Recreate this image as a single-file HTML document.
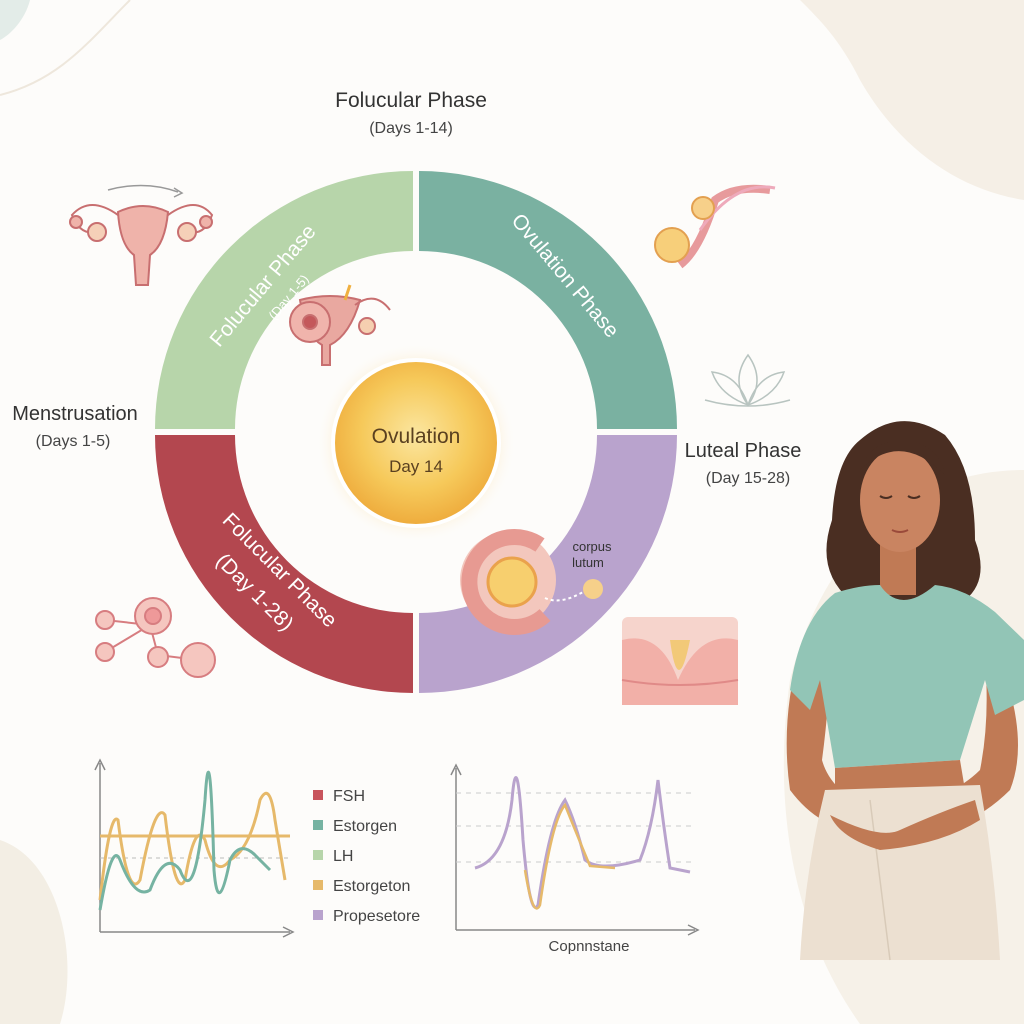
<!DOCTYPE html>
<html><head><meta charset="utf-8"><style>
html,body{margin:0;padding:0;background:#fdfcfa;}
svg{display:block;font-family:"Liberation Sans",sans-serif;}
</style></head><body>
<svg width="1024" height="1024" viewBox="0 0 1024 1024" xmlns="http://www.w3.org/2000/svg">
<defs>
<radialGradient id="sun" cx="50%" cy="45%" r="55%">
<stop offset="0" stop-color="#fbe6a0"/><stop offset="0.6" stop-color="#f6c95a"/><stop offset="1" stop-color="#eeab3c"/>
</radialGradient>
<radialGradient id="glow" cx="50%" cy="50%" r="50%">
<stop offset="0.7" stop-color="#fbe3b0" stop-opacity="0.8"/><stop offset="1" stop-color="#fdfcfa" stop-opacity="0"/>
</radialGradient>
</defs>
<rect width="1024" height="1024" fill="#fdfcfa"/>
<!-- background blobs -->
<path d="M800,0 L1024,0 L1024,200 C960,190 900,150 860,80 C840,40 820,20 800,0Z" fill="#f5efe6"/>
<path d="M1024,470 C900,470 820,560 790,680 C770,820 800,940 860,1024 L1024,1024Z" fill="#f6f1e8"/>
<path d="M0,840 C60,860 80,960 60,1024 L0,1024Z" fill="#f3eee4"/>
<path d="M0,0 L30,0 C25,20 10,35 0,40Z" fill="#e3ece8"/>
<path d="M0,95 C60,80 90,40 130,0" fill="none" stroke="#eee7dc" stroke-width="2"/>
<!-- headings -->
<text x="411" y="107" font-size="21" fill="#333" text-anchor="middle">Folucular Phase</text>
<text x="411" y="133" font-size="16" fill="#444" text-anchor="middle">(Days 1-14)</text>
<text x="75" y="420" font-size="20" fill="#333" text-anchor="middle">Menstrusation</text>
<text x="73" y="446" font-size="16" fill="#444" text-anchor="middle">(Days 1-5)</text>
<text x="743" y="457" font-size="20" fill="#333" text-anchor="middle">Luteal Phase</text>
<text x="748" y="483" font-size="16" fill="#444" text-anchor="middle">(Day 15-28)</text>
<!-- ring -->
<path transform="translate(-3,-3)" d="M158,432 A258,258 0 0 1 416,174 L416,254 A178,178 0 0 0 238,432Z" fill="#b7d5aa"/>
<path transform="translate(3,-3)" d="M416,174 A258,258 0 0 1 674,432 L594,432 A178,178 0 0 0 416,254Z" fill="#7ab1a1"/>
<path transform="translate(3,3)" d="M674,432 A258,258 0 0 1 416,690 L416,610 A178,178 0 0 0 594,432Z" fill="#b9a3cd"/>
<path transform="translate(-3,3)" d="M416,690 A258,258 0 0 1 158,432 L238,432 A178,178 0 0 0 416,610Z" fill="#b3474f"/>
<text transform="translate(268,290) rotate(-50)" font-size="21" fill="#fff" text-anchor="middle">Folucular Phase</text>
<text transform="translate(292,300) rotate(-50)" font-size="13" fill="#fff" text-anchor="middle">(Day 1-5)</text>
<text transform="translate(560,280) rotate(50)" font-size="21" fill="#fff" text-anchor="middle">Ovulation Phase</text>
<text transform="translate(275,575) rotate(45)" font-size="21" fill="#fff" text-anchor="middle">Folucular Phase</text>
<text transform="translate(250,597) rotate(45)" font-size="21" fill="#fff" text-anchor="middle">(Day 1-28)</text>
<!-- center sun -->
<circle cx="416" cy="443" r="100" fill="url(#glow)"/>
<circle cx="416" cy="443" r="83" fill="url(#sun)" stroke="#fff" stroke-width="4"/>
<text x="416" y="443" font-size="21" fill="#5a4020" text-anchor="middle">Ovulation</text>
<text x="416" y="472" font-size="17" fill="#5a4020" text-anchor="middle">Day 14</text>
<!-- uterus in ring -->
<g fill="#e9a8a0" stroke="#c86f70" stroke-width="2">
<path d="M300,300 Q330,292 360,300 Q350,335 330,345 L330,365 L322,365 L322,345 Q305,335 300,300Z"/>
<circle cx="310" cy="322" r="20" fill="#f0b4ac"/><circle cx="310" cy="322" r="7" fill="#c4585b"/>
<path d="M355,305 Q375,290 390,310" fill="none"/><circle cx="367" cy="326" r="8" fill="#f5cfb0"/>
</g>
<path d="M345,300 L350,285" stroke="#f0b040" stroke-width="3"/>
<!-- corpus luteum -->
<circle cx="508" cy="580" r="48" fill="#f3c7bd"/>
<path d="M540,545 A45,45 0 1 0 545,615" fill="none" stroke="#e79a92" stroke-width="16"/>
<circle cx="512" cy="582" r="24" fill="#f7cf6e" stroke="#eaa24c" stroke-width="3"/>
<circle cx="593" cy="589" r="10" fill="#f6d08a"/>
<path d="M545,598 Q560,605 583,592" fill="none" stroke="#fff" stroke-dasharray="3,3" stroke-width="2"/>
<text x="592" y="551" font-size="13" fill="#333" text-anchor="middle">corpus</text>
<text x="588" y="567" font-size="13" fill="#333" text-anchor="middle">lutum</text>
<!-- top-left uterus -->
<path d="M108,190 Q145,180 178,192" fill="none" stroke="#999" stroke-width="1.5"/>
<path d="M174,188 L182,193 L174,197" fill="none" stroke="#999" stroke-width="1.5"/>
<g fill="#efb3aa" stroke="#c86f70" stroke-width="2">
<path d="M118,212 Q143,200 168,212 Q165,245 150,255 L148,285 L136,285 L134,255 Q120,245 118,212Z"/>
<path d="M118,215 Q90,195 72,215 Q80,235 95,232" fill="none"/>
<path d="M168,215 Q196,195 212,215 Q205,235 190,232" fill="none"/>
<circle cx="97" cy="232" r="9" fill="#f5d0b8"/><circle cx="187" cy="232" r="9" fill="#f5d0b8"/>
<circle cx="76" cy="222" r="6"/><circle cx="206" cy="222" r="6"/>
</g>
<!-- top-right tube -->
<path d="M680,265 Q700,250 715,200 Q735,185 770,190" fill="none" stroke="#e79a9c" stroke-width="8"/>
<path d="M700,230 Q735,180 775,188" fill="none" stroke="#eab" stroke-width="3"/>
<circle cx="703" cy="208" r="11" fill="#f7d08a" stroke="#e3a050" stroke-width="2"/>
<circle cx="672" cy="245" r="17" fill="#f7cf7a" stroke="#e3a050" stroke-width="2"/>
<!-- lotus -->
<g fill="none" stroke="#b8c4c0" stroke-width="1.5">
<path d="M748,405 Q730,380 748,355 Q766,380 748,405Z"/>
<path d="M748,405 Q720,395 712,372 Q738,375 748,405Z"/>
<path d="M748,405 Q776,395 784,372 Q758,375 748,405Z"/>
<path d="M705,400 Q748,412 790,400"/>
</g>
<!-- follicles bottom-left -->
<g stroke="#d77d80" stroke-width="2" fill="#f5c6bf">
<path d="M105,620 L150,625 L158,655 L198,660 M105,652 L150,625" fill="none"/>
<circle cx="153" cy="616" r="18"/><circle cx="153" cy="616" r="8" fill="#e99"/>
<circle cx="105" cy="620" r="9"/><circle cx="105" cy="652" r="9"/>
<circle cx="158" cy="657" r="10"/><circle cx="198" cy="660" r="17"/>
</g>
<!-- endometrium -->
<rect x="622" y="617" width="116" height="88" rx="6" fill="#f6d4cc"/>
<path d="M622,640 Q660,630 678,680 Q700,630 738,640 L738,705 L622,705Z" fill="#f2b0a8"/>
<path d="M670,640 Q678,700 690,640Z" fill="#f2c978"/>
<path d="M622,680 Q680,690 738,680" stroke="#e08a88" stroke-width="2" fill="none"/>
<!-- left chart -->
<g stroke="#888" stroke-width="1.5" fill="none">
<path d="M100,932 L100,763 M95,770 L100,760 L105,770"/>
<path d="M100,932 L290,932 M283,927 L293,932 L283,937"/>
</g>
<line x1="100" y1="858" x2="290" y2="858" stroke="#bbb" stroke-dasharray="4,4"/>
<line x1="100" y1="836" x2="290" y2="836" stroke="#e6b96a" stroke-width="3"/>
<path d="M100,900 Q110,810 118,820 Q128,900 140,880 Q155,800 165,815 Q175,900 185,880 Q195,820 205,840 Q215,880 230,860 Q250,850 260,800 Q270,780 275,820 L285,880" fill="none" stroke="#e6b96a" stroke-width="3"/>
<path d="M100,910 Q112,840 120,860 Q135,900 150,890 Q165,850 180,870 Q195,910 205,800 Q210,720 214,870 Q218,920 230,860 Q240,840 255,855 L270,870" fill="none" stroke="#76b3a2" stroke-width="3"/>
<!-- legend -->
<g font-size="16" fill="#444">
<rect x="313" y="790" width="10" height="10" fill="#c8545c"/><text x="333" y="801">FSH</text>
<rect x="313" y="820" width="10" height="10" fill="#76b3a2"/><text x="333" y="831">Estorgen</text>
<rect x="313" y="850" width="10" height="10" fill="#b7d5aa"/><text x="333" y="861">LH</text>
<rect x="313" y="880" width="10" height="10" fill="#e6b96a"/><text x="333" y="891">Estorgeton</text>
<rect x="313" y="910" width="10" height="10" fill="#b9a3cd"/><text x="333" y="921">Propesetore</text>
</g>
<!-- right chart -->
<g stroke="#888" stroke-width="1.5" fill="none">
<path d="M456,930 L456,768 M451,775 L456,765 L461,775"/>
<path d="M456,930 L695,930 M688,925 L698,930 L688,935"/>
</g>
<g stroke="#ccc" stroke-dasharray="5,5"><line x1="456" y1="793" x2="695" y2="793"/><line x1="456" y1="826" x2="695" y2="826"/><line x1="456" y1="862" x2="695" y2="862"/></g>
<path d="M475,868 Q505,860 512,800 Q517,740 523,840 Q530,920 538,905 Q550,820 565,800 Q575,820 585,860 Q600,872 640,860 Q652,830 658,780 Q664,830 670,868 L690,872" fill="none" stroke="#b9a3cd" stroke-width="3"/>
<path d="M525,870 Q533,920 540,905 Q552,820 565,805 Q575,830 590,866 L615,868" fill="none" stroke="#e6b96a" stroke-width="2.5"/>
<text x="589" y="951" font-size="15" fill="#444" text-anchor="middle">Copnnstane</text>
<!-- woman -->
<path d="M860,440 Q900,405 945,435 Q975,470 975,540 Q990,580 965,600 L850,600 Q815,570 832,520 Q835,460 860,440Z" fill="#4a2e22"/>
<rect x="880" y="545" width="36" height="50" fill="#c07a55"/>
<ellipse cx="900" cy="500" rx="40" ry="52" fill="#c98461"/>
<path d="M860,470 Q900,430 945,475 Q940,445 905,440 Q870,440 860,470Z" fill="#4a2e22"/>
<path d="M880,496 Q886,500 892,496 M908,496 Q914,500 920,496" stroke="#4a2e22" stroke-width="2" fill="none"/>
<path d="M892,530 Q900,534 908,530" stroke="#9a4a3a" stroke-width="2" fill="none"/>
<!-- arms -->
<path d="M800,650 Q780,720 790,790 Q820,830 860,830 L870,810 Q830,790 822,760 Q830,700 830,650Z" fill="#c07a55"/>
<path d="M1000,660 Q1030,740 1010,790 Q960,840 880,840 L880,815 Q950,800 980,770 Q990,720 985,660Z" fill="#c07a55"/>
<!-- shirt -->
<path d="M835,593 Q860,585 880,585 Q900,615 935,585 Q965,588 995,612 L1024,640 L1024,700 L995,715 L985,680 L960,760 L835,768 L820,680 L810,710 L790,690 Q800,620 835,593Z" fill="#92c5b6"/>
<path d="M835,768 L960,760 L965,790 L835,795Z" fill="#c07a55"/>
<!-- pants -->
<path d="M825,790 L980,785 Q995,870 1000,960 L800,960 Q805,870 825,790Z" fill="#ece0d1"/>
<path d="M870,800 L890,960" stroke="#d8cab8" stroke-width="1.5"/>
<path d="M830,815 Q880,840 900,830 Q940,812 975,800 L980,820 Q940,845 880,850 Q840,838 830,815Z" fill="#c07a55"/>
</svg>
</body></html>
